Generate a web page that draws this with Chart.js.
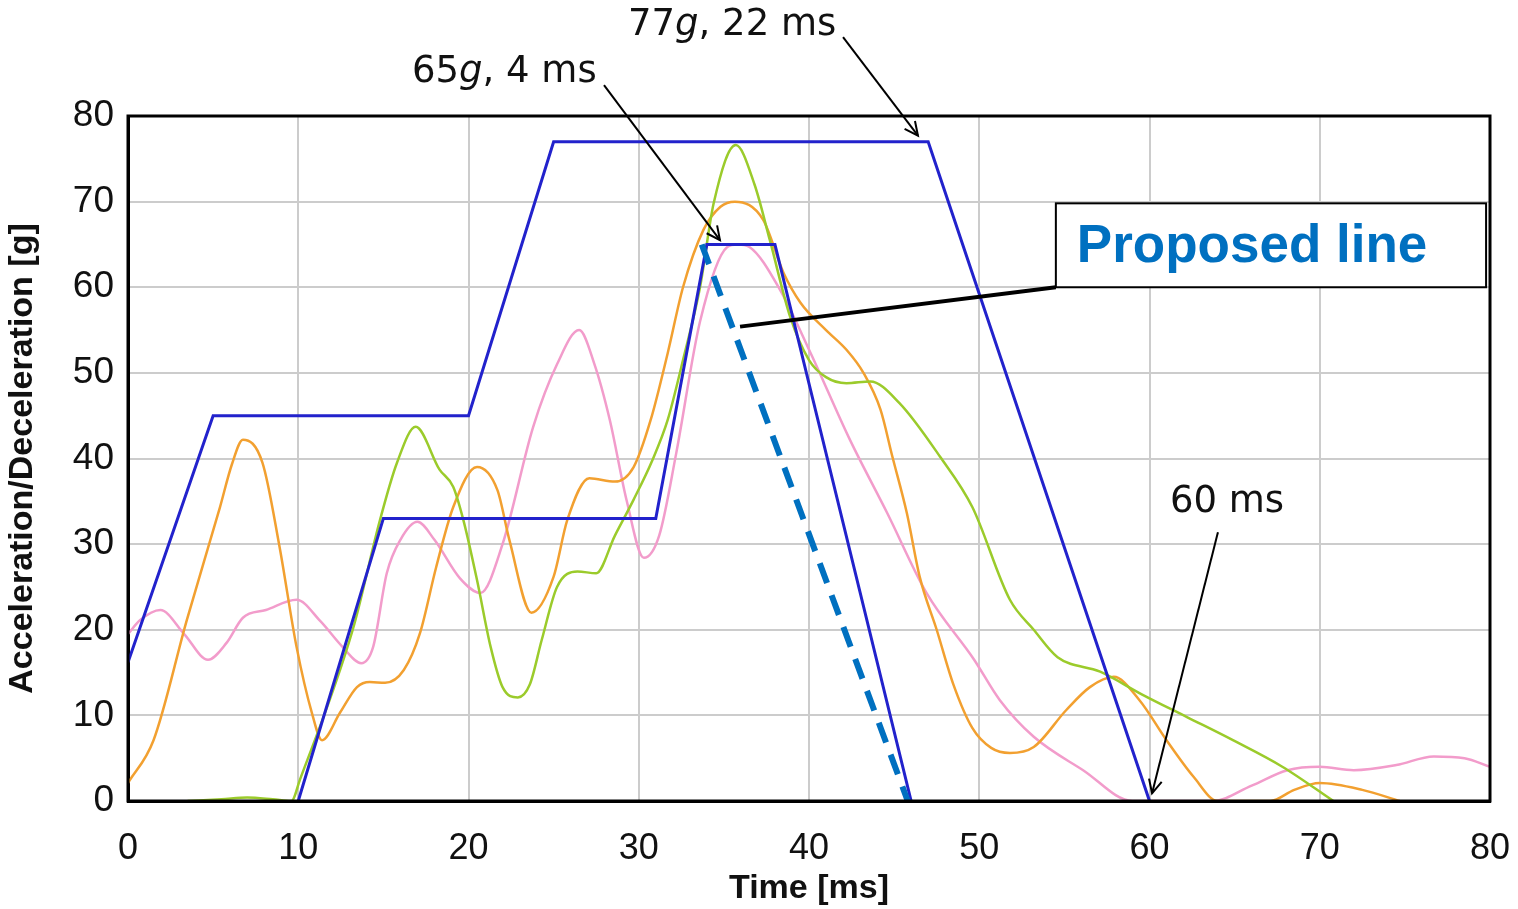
<!DOCTYPE html>
<html>
<head>
<meta charset="utf-8">
<script src="https://cdn.jsdelivr.net/npm/chart.js@4.4.1/dist/chart.umd.min.js"></script>
<style>
  html, body { margin: 0; padding: 0; background: #fff; }
  #wrap { width: 1518px; height: 909px; }
</style>
</head>
<body>
<div id="wrap"><canvas id="pulseChart" width="1518" height="909"></canvas></div>
<script>
// Khung xung (đường xanh)
const outerTime = [0, 5, 20, 25, 47, 60];
const outerG = [16.2, 45, 45, 77, 77, 0];
const innerTime = [10, 15, 31, 34, 38, 46];
const innerG = [0, 33, 33, 65, 65, 0];
const proposedTime = [33.7, 45.8];
const proposedG = [65, 0];

// Các đường đo
const orangeTime = [0, 1.5, 3.45, 5.4, 6.1, 6.75, 7.9, 8.9, 9.9, 10.8, 11.4, 12.45, 13.45, 14.2, 15.1, 16.2, 17.15, 18.1, 19.1, 20.5, 21.7, 22.4, 23.7, 25, 25.8, 27.1, 28.6, 29.7, 30.7, 31.7, 32.6, 33.8, 34.8, 35.65, 37.3, 38.5, 39.5, 41, 42.2, 43.2, 44.2, 44.9, 45.75, 46.5, 47.5, 48.5, 49.6, 50.7, 51.8, 53.2, 55.1, 56.5, 57.9, 59.4, 61, 62.6, 64, 67.1, 68.5, 70, 72.5, 74.7];
const orangeG = [2.1, 7.1, 21.1, 34.3, 39.3, 42.2, 39.5, 29.7, 18, 10.3, 7.1, 10.3, 13.3, 13.9, 13.8, 15.3, 19.6, 27.3, 34.3, 39, 36.3, 30.5, 22, 26.2, 32.8, 37.7, 37.3, 39, 44.5, 52.3, 60, 66.7, 69.4, 70, 67.9, 61.7, 58.2, 55, 52.7, 50, 45.7, 40.2, 33.6, 26.2, 20, 13.5, 8.5, 6.2, 5.6, 6.3, 10.6, 13.3, 14.5, 11.8, 7.1, 2.8, 0, 0, 1.3, 2.1, 1.3, 0];

const greenTime = [3.5, 5.5, 7, 8.5, 9.6, 10.1, 13.2, 14.8, 15.8, 16.9, 18.3, 19.1, 19.7, 20.5, 21.3, 22, 22.9, 23.6, 24.3, 25.2, 26.4, 27.5, 28.6, 29.7, 30.8, 31.7, 32.6, 33.6, 34.4, 35.7, 36.8, 37.7, 38.9, 40, 41, 42.2, 43.6, 45.3, 47.7, 49.6, 51.8, 53.2, 54.6, 57.1, 59.6, 62.2, 64.9, 67.8, 70.8];
const greenG = [0, 0.2, 0.4, 0.2, 0, 2.5, 20, 32.8, 39.5, 43.7, 38.7, 36.7, 32.8, 25.8, 18, 13.3, 12.1, 13.6, 18.8, 25, 26.8, 26.6, 31, 35.2, 39.8, 44.5, 51.5, 60, 69.8, 76.6, 72, 65.5, 56.5, 51.5, 49.5, 48.8, 49, 46.5, 40.2, 34.3, 23.5, 20, 16.8, 15.1, 12.4, 9.8, 7.1, 4, 0];

const pinkTime = [0, 0.7, 1.9, 3.3, 4.7, 5.8, 6.75, 8.1, 9.9, 11.3, 12.6, 13.7, 14.4, 15.2, 16, 17, 18, 19.5, 20.7, 22, 23.8, 25.2, 26.5, 27.4, 28.3, 29.3, 30.3, 31.2, 32.2, 33.6, 35.2, 35.8, 36.5, 38.3, 40.1, 42.4, 44.6, 46.9, 49.7, 51.2, 53.2, 56.1, 59, 63.7, 66, 68.1, 70, 72, 74.5, 76.7, 78.5, 80];
const pinkG = [19.5, 21.1, 22.3, 19.5, 16.5, 18.5, 21.4, 22.3, 23.5, 21, 18, 16.1, 18, 26.6, 30.5, 32.6, 30.5, 26, 24.3, 30, 43.7, 51, 55, 51, 44.5, 35, 28.4, 31, 40.6, 56, 64.7, 65, 64.7, 59.7, 52.3, 42.2, 33.6, 24.3, 16.5, 11.8, 7.5, 3.6, 0, 0, 1.8, 3.6, 4, 3.6, 4.2, 5.2, 5, 4];

// Trục
const xTicks = [0, 10, 20, 30, 40, 50, 60, 70, 80];
const yTicks = [0, 10, 20, 30, 40, 50, 60, 70, 80];

// Chú thích (đơn vị dữ liệu)
const arrowFromT = [42.0, 27.96, 64.02];
const arrowFromG = [89.2, 83.6, 31.4];
const arrowToT = [46.4, 34.77, 60.15];
const arrowToG = [77.7, 65.5, 0.9];
const labelParts = [
  [['77', false], ['g', true], [', 22 ms', false]],
  [['65', false], ['g', true], [', 4 ms', false]],
  [['60 ms', false]]
];
const labelT = [29.37, 16.68, 61.2];
const labelG = [90.6, 85.1, 34.9];
const boxT = [54.5, 79.77];
const boxG = [69.8, 60.0];
const leaderT = [35.95, 54.5];
const leaderG = [55.4, 60.0];

function pts(ts, gs) {
  return ts.map((t, i) => ({ x: t, y: gs[i] }));
}

const annotatePlugin = {
  id: 'annotate',
  afterDraw(chart) {
    const ctx = chart.ctx;
    const xs = chart.scales.x, ys = chart.scales.y;
    const a = chart.chartArea;
    ctx.save();
    // khung đồ thị
    ctx.strokeStyle = '#000';
    ctx.lineWidth = 3;
    ctx.strokeRect(a.left, a.top, a.right - a.left, a.bottom - a.top);

    // mũi tên
    ctx.lineWidth = 2;
    ctx.strokeStyle = '#000';
    for (let i = 0; i < arrowFromT.length; i++) {
      const x1 = xs.getPixelForValue(arrowFromT[i]), y1 = ys.getPixelForValue(arrowFromG[i]);
      const x2 = xs.getPixelForValue(arrowToT[i]), y2 = ys.getPixelForValue(arrowToG[i]);
      ctx.beginPath(); ctx.moveTo(x1, y1); ctx.lineTo(x2, y2); ctx.stroke();
      const ang = Math.atan2(y2 - y1, x2 - x1);
      const len = 15;
      ctx.beginPath();
      ctx.moveTo(x2 - len * Math.cos(ang - 0.45), y2 - len * Math.sin(ang - 0.45));
      ctx.lineTo(x2, y2);
      ctx.lineTo(x2 - len * Math.cos(ang + 0.45), y2 - len * Math.sin(ang + 0.45));
      ctx.stroke();
    }

    // nhãn
    ctx.fillStyle = '#111';
    ctx.textBaseline = 'middle';
    ctx.textAlign = 'left';
    labelParts.forEach((parts, i) => {
      let x = xs.getPixelForValue(labelT[i]);
      const y = ys.getPixelForValue(labelG[i]);
      parts.forEach(([txt, it]) => {
        ctx.font = (it ? 'italic ' : '') + '37px "DejaVu Sans"';
        ctx.fillText(txt, x, y);
        x += ctx.measureText(txt).width;
      });
    });

    // đường dẫn và hộp "Proposed line"
    ctx.lineWidth = 4;
    ctx.beginPath();
    ctx.moveTo(xs.getPixelForValue(leaderT[0]), ys.getPixelForValue(leaderG[0]));
    ctx.lineTo(xs.getPixelForValue(leaderT[1]), ys.getPixelForValue(leaderG[1]));
    ctx.stroke();
    const bx = xs.getPixelForValue(boxT[0]), by = ys.getPixelForValue(boxG[0]);
    const bw = xs.getPixelForValue(boxT[1]) - bx, bh = ys.getPixelForValue(boxG[1]) - by;
    ctx.fillStyle = '#fff';
    ctx.fillRect(bx, by, bw, bh);
    ctx.lineWidth = 2;
    ctx.strokeRect(bx, by, bw, bh);
    ctx.fillStyle = '#0070C0';
    ctx.font = 'bold 53px "Liberation Sans", Arial, sans-serif';
    ctx.fillText('Proposed line', bx + 21, by + bh / 2 + 2);
    ctx.restore();
  }
};

const ctx = document.getElementById('pulseChart').getContext('2d');
new Chart(ctx, {
  type: 'scatter',
  data: {
    datasets: [
      {
        label: 'Proposed', data: pts(proposedTime, proposedG), showLine: true,
        borderColor: '#0070C0', borderWidth: 6, borderDash: [21, 13], pointRadius: 0, order: 0
      },
      {
        label: 'Outer', data: pts(outerTime, outerG), showLine: true,
        borderColor: '#2222CC', borderWidth: 3, pointRadius: 0, tension: 0, order: 1
      },
      {
        label: 'Inner', data: pts(innerTime, innerG), showLine: true,
        borderColor: '#2222CC', borderWidth: 3, pointRadius: 0, tension: 0, order: 1
      },
      {
        label: 'Orange', data: pts(orangeTime, orangeG), showLine: true,
        borderColor: '#F2A030', borderWidth: 2.5, pointRadius: 0, cubicInterpolationMode: 'monotone', order: 3
      },
      {
        label: 'Green', data: pts(greenTime, greenG), showLine: true,
        borderColor: '#9BCB2B', borderWidth: 2.5, pointRadius: 0, cubicInterpolationMode: 'monotone', order: 2
      },
      {
        label: 'Pink', data: pts(pinkTime, pinkG), showLine: true,
        borderColor: '#F29CCB', borderWidth: 2.5, pointRadius: 0, cubicInterpolationMode: 'monotone', order: 4
      }
    ]
  },
  options: {
    responsive: false,
    animation: false,
    layout: { padding: { top: 116, right: 28, left: 0, bottom: 0 } },
    plugins: { legend: { display: false }, tooltip: { enabled: false } },
    scales: {
      x: {
        type: 'linear', min: 0, max: 80,
        afterBuildTicks: s => { s.ticks = xTicks.map(v => ({ value: v })); },
        afterFit: s => { s.height = 108; s.paddingLeft = 0; s.paddingRight = 0; },
        grid: { color: '#cccccc', lineWidth: 2, drawTicks: false },
        border: { color: '#000', width: 3 },
        ticks: { color: '#111', padding: 26, font: { family: '"Liberation Sans", Arial', size: 36 } },
        title: { display: true, text: 'Time [ms]', color: '#111', padding: { top: 0, bottom: 0 },
                 font: { family: '"Liberation Sans", Arial', size: 34, weight: 'bold' } }
      },
      y: {
        type: 'linear', min: 0, max: 80,
        afterBuildTicks: s => { s.ticks = yTicks.map(v => ({ value: v })); },
        afterFit: s => { s.width = 128; s.paddingTop = 0; s.paddingBottom = 0; },
        grid: { color: '#cccccc', lineWidth: 2, drawTicks: false },
        border: { color: '#000', width: 3 },
        ticks: { color: '#111', padding: 14, font: { family: '"Liberation Sans", Arial', size: 37 } },
        title: { display: true, text: 'Acceleration/Deceleration [g]', color: '#111', padding: { top: 2, bottom: 0 },
                 font: { family: '"Liberation Sans", Arial', size: 34, weight: 'bold' } }
      }
    }
  },
  plugins: [annotatePlugin]
});
</script>
</body>
</html>
